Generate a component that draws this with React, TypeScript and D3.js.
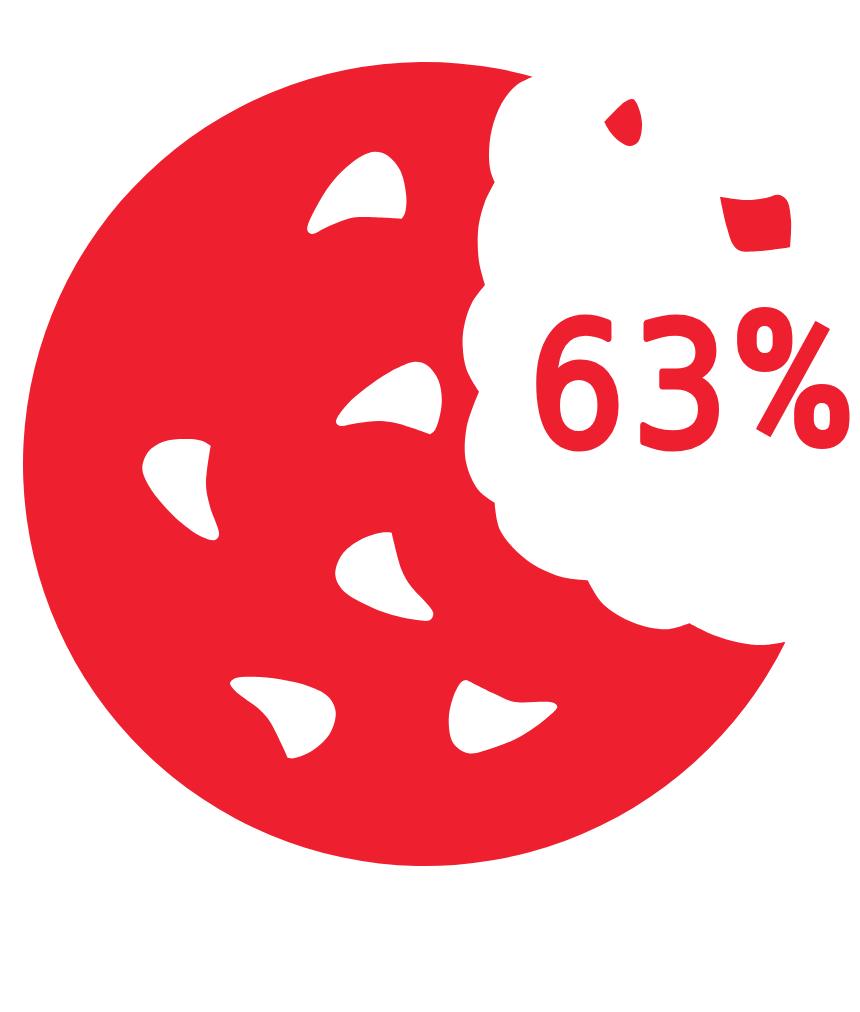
import React from "react";
import * as d3 from "d3";

type Pt = [number, number];

const percentValue = 63;
const percentDigits = String(percentValue).split("");
const percentSign = "%";

const cookieRed = "#EE1F2F";
const cookieCenter: Pt = [425, 464];
const cookieRadius = 402;

// Scalloped edge of the bite, one run per lobe, from the top of the cookie to its lower right.
const biteLobes: Pt[][] = [
  [[532.7, 76.7], [516.7, 85], [501.7, 103.3], [491.7, 130], [489, 155], [490.7, 171.7], [494.7, 182.3]],
  [[494.7, 182.3], [485, 201.7], [479, 223.3], [477.7, 243.3], [479.3, 263.3], [485, 285]],
  [[485, 285], [471.7, 303.3], [464, 326.7], [462.7, 346.7], [466.7, 370], [479, 391.7]],
  [[479, 391.7], [466.5, 428], [466, 462], [478.3, 490], [494.7, 502.7]],
  [[494.7, 502.7], [500, 530], [526.7, 560], [560, 576.5], [587.7, 580.3]],
  [[587.7, 580.3], [603, 604], [633, 622.5], [666.7, 629.3], [689.3, 623.3]],
  [[689.3, 623.3], [713.3, 635], [740, 642.7], [763.3, 645], [784.3, 642]],
];

// Chocolate chips punched out of the cookie; each outline starts and ends on its sharp corner.
const holeChips: Pt[][] = [
  [[401.7, 218.7], [405, 213], [406.3, 196.7], [400, 170], [386.7, 155], [375, 151.7], [361.7, 156], [336.7, 176.7], [318.3, 203.3], [307.3, 230], [311.7, 234], [326.7, 227.3], [350, 218.3], [363.3, 217], [401.7, 218.7]],
  [[430, 434.3], [435, 430], [441.7, 403.3], [438.3, 380], [426.7, 365], [415, 361.7], [396.7, 368.3], [370, 385], [346.7, 405], [336, 421.7], [339.3, 425.7], [356.7, 423.3], [380, 421], [396.7, 423.3], [430, 434.3]],
  [[210.7, 445.7], [206, 485], [210, 506.7], [219, 535], [215, 540], [201.7, 536.7], [180, 521.7], [163.3, 505], [148.3, 485], [142.3, 468.3], [148.3, 451.7], [163.3, 441.7], [185, 439], [201.7, 440.7], [210.7, 445.7]],
  [[391.7, 532.7], [401.7, 570], [410, 585], [433.3, 613.3], [430, 620], [416.7, 620], [390, 614.3], [366.7, 605], [343.3, 590.7], [335.3, 575], [341.7, 555], [360, 540], [383.3, 532.3], [391.7, 532.7]],
  [[287.7, 757.7], [293.3, 758.3], [313.3, 750], [330, 733.3], [335.7, 711.7], [328.3, 696.7], [310, 686.7], [280, 679.3], [250, 676.7], [235, 678.3], [230, 683.3], [235, 690.7], [260, 710], [270, 721.7], [287.7, 757.7]],
  [[466.7, 680], [461.7, 681.7], [453.3, 696.7], [448.7, 720], [453.3, 743.3], [468.3, 753.3], [486.7, 750], [520, 736.7], [548.3, 716.7], [557.3, 706.7], [553.3, 702.7], [513.3, 701.7], [493.3, 693.3], [466.7, 680]],
];

// Crumbs left floating inside the bite, split at their corners.
const crumbChips: Pt[][][] = [
  [[[604.3, 122], [625, 101.7], [632.7, 99], [636.7, 103.3], [642, 123.3], [638.3, 141.7], [630, 146], [620, 141.7], [610, 131.7], [604.3, 122]]],
  [
    [[720, 196.7], [746.7, 200], [766.7, 197.7], [778.3, 194.7], [786.7, 200], [791, 220], [790, 247.3]],
    [[790, 247.3], [760, 251], [740, 250.7], [733.3, 245], [726.7, 226.7], [720, 196.7]],
  ],
];

const smoothRun = d3.line<Pt>().curve(d3.curveCatmullRom.alpha(0.5));
const joinRuns = (runs: Pt[][]) =>
  runs.map((run, i) => (i === 0 ? (smoothRun(run) as string) : (smoothRun(run) as string).replace(/^M/, "L"))).join("");

function cookieOutline(): string {
  const [cx, cy] = cookieCenter;
  const first = biteLobes[0][0];
  const lastLobe = biteLobes[biteLobes.length - 1];
  const last = lastLobe[lastLobe.length - 1];
  const rim = d3.path();
  // Rim runs clockwise on screen from the lower end of the bite, past the bottom and left, to its top end.
  rim.arc(cx, cy, cookieRadius, Math.atan2(last[1] - cy, last[0] - cx), Math.atan2(first[1] - cy, first[0] - cx), false);
  const edge = biteLobes.map((lobe) => (smoothRun(lobe) as string).replace(/^M/, "L")).join("");
  return `${rim.toString()}${edge}Z`;
}

// The label is condensed horizontally, so its x offsets are in the narrowed space.
const labelSqueeze = 0.88;

export default function App() {
  const d = [cookieOutline(), ...holeChips.map((c) => `${joinRuns([c])}Z`)].join("");
  const digitX = [601, 718];
  return (
    <svg
      width={860}
      height={1012}
      viewBox="0 0 860 1012"
      style={{ position: "absolute", left: 0, top: 0, display: "block", background: "#fff" }}
    >
      <path d={d} fill={cookieRed} fillRule="evenodd" />
      {crumbChips.map((c, i) => (
        <path key={i} d={`${joinRuns(c)}Z`} fill={cookieRed} />
      ))}
      <text
        transform={`scale(${labelSqueeze},1)`}
        y={446}
        fill={cookieRed}
        stroke={cookieRed}
        strokeLinejoin="round"
      >
        {percentDigits.map((digit, i) => (
          <tspan key={i} x={digitX[i]} fontFamily="'DejaVu Sans', sans-serif" fontSize={172} strokeWidth={7}>
            {digit}
          </tspan>
        ))}
        <tspan x={830} fontFamily="Roboto, sans-serif" fontWeight={900} fontSize={192} strokeWidth={2}>
          {percentSign}
        </tspan>
      </text>
    </svg>
  );
}
